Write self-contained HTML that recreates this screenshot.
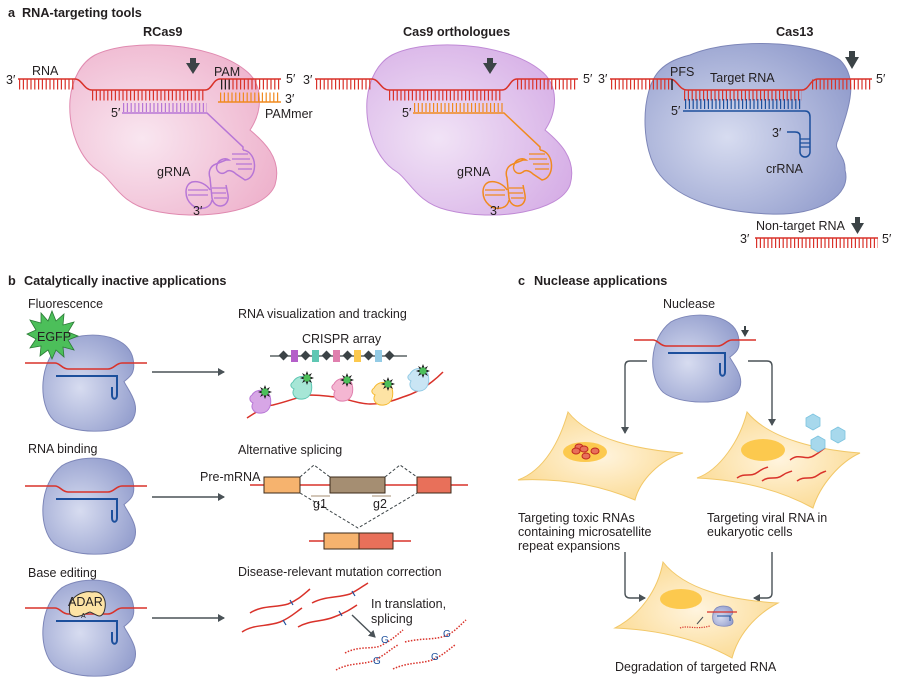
<!DOCTYPE html>
<html><head><meta charset="utf-8"><style>
html,body{margin:0;padding:0;background:#fff;}
svg{display:block;font-family:"Liberation Sans",sans-serif;}
.t{font-size:12.5px;fill:#231f20;}
.h{font-size:12.7px;font-weight:bold;fill:#231f20;}
</style></head><body>
<svg width="905" height="681" viewBox="0 0 905 681" xmlns="http://www.w3.org/2000/svg">
<defs>
<radialGradient id="gp" cx="0.35" cy="0.55" r="0.7"><stop offset="0" stop-color="#f9e6f0"/><stop offset="1" stop-color="#eeb2cc"/></radialGradient>
<radialGradient id="gv" cx="0.35" cy="0.55" r="0.7"><stop offset="0" stop-color="#f1e3f6"/><stop offset="1" stop-color="#d6aee6"/></radialGradient>
<radialGradient id="gb" cx="0.4" cy="0.55" r="0.7"><stop offset="0" stop-color="#d7dcf0"/><stop offset="1" stop-color="#8f9acb"/></radialGradient>
<radialGradient id="gc" cx="0.5" cy="0.5" r="0.6"><stop offset="0" stop-color="#fff4de"/><stop offset="1" stop-color="#fbd98f"/></radialGradient>
<path id="bean" d="M22,8 C45,-6 88,-2 93,25 C96,40 90,44 84,49 C88,58 102,74 92,90 C78,106 30,104 14,90 C-2,74 -2,28 22,8Z"/>
<marker id="ah" markerWidth="8" markerHeight="8" refX="6" refY="4" orient="auto" markerUnits="userSpaceOnUse"><path d="M0,0 L7,4 L0,8 Z" fill="#4a5257"/></marker>
<g id="star"><polygon points="0,-7 1.5,-3 5,-5 3,-1.5 7,0 3,1.5 5,5 1.5,3 0,7 -1.5,3 -5,5 -3,1.5 -7,0 -3,-1.5 -5,-5 -1.5,-3" fill="#1a1a1a"/><circle r="3.6" fill="#4cbf5a"/></g>
<g id="bprot">
<use href="#bean" transform="scale(1.0,0.95)" fill="url(#gb)" stroke="#7d86b8" stroke-width="1"/>
<path d="M-15,28 L15,28 C20,28 22,34 28,34 L68,34 C74,34 76,28 82,28 L107,28" fill="none" stroke="#d9322a" stroke-width="1.6"/>
<path d="M16,41 L77,41 L77,60 C77,65 72,65 72,60 L72,52" fill="none" stroke="#1c4f9c" stroke-width="2"/>
</g>
</defs>

<!-- ===== a ===== -->
<text x="8" y="17" class="h">a</text><text x="22" y="17" class="h">RNA-targeting tools</text>
<text x="143" y="36" class="h">RCas9</text>
<text x="403" y="36" class="h">Cas9 orthologues</text>
<text x="776" y="36" class="h">Cas13</text>

<!-- RCas9 -->
<path d="M95,55 C130,38 210,42 245,70 C265,85 262,112 250,130 C262,140 283,158 275,185 C265,212 200,222 150,210 C120,203 112,180 100,172 C80,160 68,130 70,100 C72,78 82,62 95,55Z" fill="url(#gp)" stroke="#e08ab0" stroke-width="1"/>
<g id="strandA">
<path d="M18,79 L75,79 C82,79 84,90 92,90 L205,90 C212,90 213,79 220,79 L281,79" fill="none" stroke="#d9322a" stroke-width="1.5"/>
<line x1="19" y1="84.5" x2="75" y2="84.5" stroke="#d9322a" stroke-width="10" stroke-dasharray="1.2 2.6"/>
<line x1="92" y1="95.5" x2="205" y2="95.5" stroke="#d9322a" stroke-width="10" stroke-dasharray="1.2 2.6"/>
<path d="M186,63 L200,63 L193,74 Z M190,58 L196,58 L196,64 L190,64Z" fill="#3b4346"/>
<text x="6" y="84" class="t">3′</text>
</g>
<line x1="221" y1="84.5" x2="280" y2="84.5" stroke="#d9322a" stroke-width="10" stroke-dasharray="1.2 2.6"/>
<line x1="221" y1="84.5" x2="232" y2="84.5" stroke="#222" stroke-width="10" stroke-dasharray="1.2 2.6"/>
<text x="32" y="75" class="t">RNA</text>
<text x="214" y="76" class="t">PAM</text>
<text x="286" y="83" class="t">5′</text>
<line x1="220" y1="97" x2="280" y2="97" stroke="#f08a1f" stroke-width="9" stroke-dasharray="1.2 2.6"/>
<line x1="218" y1="102" x2="281" y2="102" stroke="#f08a1f" stroke-width="1.5"/>
<text x="285" y="103" class="t">3′</text>
<text x="265" y="118" class="t">PAMmer</text>
<line x1="123" y1="107.5" x2="207" y2="107.5" stroke="#b776d6" stroke-width="9" stroke-dasharray="1.2 2.6"/>
<path d="M122,113 L207,113 L243,147 L243,150 M243,150 C258,152 258,178 245,180 L236,174 C232,170 228,170 226,172 C220,176 215,170 217,165 C218,160 225,157 229,160 L226,160 L216,164 C210,166 208,172 210,178 L212,198 C214,210 230,208 228,195 L226,185 M212,200 C210,210 198,210 192,205 C184,198 184,185 192,182 C200,180 208,186 210,190" fill="none" stroke="#b776d6" stroke-width="1.5"/>
<path d="M232,154 L248,154 M232,159 L250,159 M236,164 L252,164 M238,169 L252,169 M212,188 L226,188 M212,193 L226,193 M214,198 L227,198 M188,190 L208,190 M188,195 L208,195" stroke="#b776d6" stroke-width="1.2"/>
<text x="111" y="117" class="t">5′</text>
<text x="157" y="176" class="t">gRNA</text>
<text x="193" y="215" class="t">3′</text>

<!-- Cas9 orthologues -->
<path d="M392,55 C425,38 505,42 540,70 C560,85 557,112 545,130 C557,140 578,158 570,185 C560,212 495,222 447,210 C417,203 409,180 397,172 C377,160 365,130 367,100 C369,78 379,62 392,55Z" fill="url(#gv)" stroke="#c08ad6" stroke-width="1"/>
<use href="#strandA" transform="translate(297,0)"/>
<line x1="517" y1="84.5" x2="577" y2="84.5" stroke="#d9322a" stroke-width="10" stroke-dasharray="1.2 2.6"/>
<text x="583" y="83" class="t">5′</text>
<line x1="414" y1="107.5" x2="505" y2="107.5" stroke="#f08a1f" stroke-width="9" stroke-dasharray="1.2 2.6"/>
<g transform="translate(297,0)">
<path d="M116,113 L207,113 L243,147 L243,150 M243,150 C258,152 258,178 245,180 L236,174 C232,170 228,170 226,172 C220,176 215,170 217,165 C218,160 225,157 229,160 L226,160 L216,164 C210,166 208,172 210,178 L212,198 C214,210 230,208 228,195 L226,185 M212,200 C210,210 198,210 192,205 C184,198 184,185 192,182 C200,180 208,186 210,190" fill="none" stroke="#f08a1f" stroke-width="1.5"/>
<path d="M232,154 L248,154 M232,159 L250,159 M236,164 L252,164 M238,169 L252,169 M212,188 L226,188 M212,193 L226,193 M214,198 L227,198 M188,190 L208,190 M188,195 L208,195" stroke="#f08a1f" stroke-width="1.2"/>
<text x="105" y="117" class="t">5′</text>
<text x="160" y="176" class="t">gRNA</text>
<text x="193" y="215" class="t">3′</text>
</g>

<!-- Cas13 -->
<path d="M690,55 C730,38 810,40 840,60 C860,80 848,110 838,140 C832,150 846,155 845,170 C852,195 820,216 770,214 C720,212 680,200 660,175 C640,150 640,90 660,70 C668,62 678,58 690,55Z" fill="url(#gb)" stroke="#7d86b8" stroke-width="1"/>
<path d="M610,79 L670,79 C677,79 679,90 687,90 L802,90 C809,90 810,79 818,79 L872,79" fill="none" stroke="#d9322a" stroke-width="1.5"/>
<line x1="611" y1="84.5" x2="672" y2="84.5" stroke="#d9322a" stroke-width="10" stroke-dasharray="1.2 2.6"/>
<line x1="684" y1="95.5" x2="802" y2="95.5" stroke="#d9322a" stroke-width="10" stroke-dasharray="1.2 2.6"/>
<line x1="812" y1="84.5" x2="872" y2="84.5" stroke="#d9322a" stroke-width="10" stroke-dasharray="1.2 2.6"/>
<line x1="672" y1="79" x2="672" y2="90" stroke="#222" stroke-width="1.5"/>
<text x="598" y="83" class="t">3′</text><text x="876" y="83" class="t">5′</text>
<text x="670" y="76" class="t">PFS</text>
<text x="710" y="82" class="t">Target RNA</text>
<path d="M845,57 L859,57 L852,69 Z M849,51 L855,51 L855,58 L849,58Z" fill="#3b4346"/>
<line x1="685" y1="104" x2="802" y2="104" stroke="#1c4f9c" stroke-width="10" stroke-dasharray="1.2 2.6"/>
<path d="M683,111 L805,111 Q810,111 810,117 L810,152 A5,5 0 0 1 800,152 L800,136 Q800,132 795,132 L787,132" fill="none" stroke="#1c4f9c" stroke-width="1.5"/>
<path d="M800,139 L810,139 M800,143 L810,143 M800,147 L810,147" stroke="#1c4f9c" stroke-width="1.2"/>
<text x="671" y="115" class="t">5′</text>
<text x="772" y="137" class="t">3′</text>
<text x="766" y="173" class="t">crRNA</text>
<text x="756" y="230" class="t">Non-target RNA</text>
<path d="M851,223 L864,223 L857.5,234 Z M855,217 L860,217 L860,224 L855,224Z" fill="#3b4346"/>
<text x="740" y="243" class="t">3′</text><text x="882" y="243" class="t">5′</text>
<line x1="755" y1="238" x2="878" y2="238" stroke="#d9322a" stroke-width="1.5"/>
<line x1="756" y1="243" x2="878" y2="243" stroke="#d9322a" stroke-width="10" stroke-dasharray="1.2 2.6"/>

<!-- ===== b ===== -->
<text x="8" y="285" class="h">b</text><text x="24" y="285" class="h">Catalytically inactive applications</text>
<text x="28" y="308" class="t">Fluorescence</text>
<use href="#bprot" transform="translate(40,335)"/>
<polygon points="52,311 56,321 64,314 63,325 74,322 68,332 78,336 68,340 74,350 63,347 64,357 56,350 52,359 48,350 40,356 41,346 30,348 36,339 27,334 36,330 30,320 41,323 41,313 48,321" fill="#4cbf5a" stroke="#2a7a35" stroke-width="0.8"/>
<text x="37" y="341" class="t">EGFP</text>

<text x="28" y="453" class="t">RNA binding</text>
<use href="#bprot" transform="translate(40,458)"/>
<text x="28" y="577" class="t">Base editing</text>
<use href="#bprot" transform="translate(40,580)"/>
<path d="M70,614 C66,598 82,590 92,592 C102,590 108,600 104,612 C100,620 96,614 90,612 C84,614 76,620 70,614Z" fill="#fde3a4" stroke="#333" stroke-width="1"/>
<text x="68" y="606" class="t">ADAR</text>
<text x="81" y="618" style="font-size:7px;fill:#231f20">A</text>

<line x1="152" y1="372" x2="224" y2="372" stroke="#4a5257" stroke-width="1.4" marker-end="url(#ah)"/>
<line x1="152" y1="497" x2="224" y2="497" stroke="#4a5257" stroke-width="1.4" marker-end="url(#ah)"/>
<line x1="152" y1="618" x2="224" y2="618" stroke="#4a5257" stroke-width="1.4" marker-end="url(#ah)"/>

<text x="238" y="318" class="t">RNA visualization and tracking</text>
<text x="302" y="343" class="t">CRISPR array</text>
<line x1="270" y1="356" x2="407" y2="356" stroke="#3b4346" stroke-width="1.2"/>
<g fill="#3b4346">
<rect x="280" y="352" width="7" height="7" transform="rotate(45 283.5 355.5)"/>
<rect x="302" y="352" width="7" height="7" transform="rotate(45 305.5 355.5)"/>
<rect x="323" y="352" width="7" height="7" transform="rotate(45 326.5 355.5)"/>
<rect x="344" y="352" width="7" height="7" transform="rotate(45 347.5 355.5)"/>
<rect x="365" y="352" width="7" height="7" transform="rotate(45 368.5 355.5)"/>
<rect x="386" y="352" width="7" height="7" transform="rotate(45 389.5 355.5)"/>
</g>
<rect x="291" y="350" width="7" height="12" fill="#b45fc9"/>
<rect x="312" y="350" width="7" height="12" fill="#5fc7b3"/>
<rect x="333" y="350" width="7" height="12" fill="#e07fae"/>
<rect x="354" y="350" width="7" height="12" fill="#fcc94e"/>
<rect x="375" y="350" width="7" height="12" fill="#93cbe5"/>
<path d="M247,418 C258,411 265,406 273,405 C290,401 300,396 310,395 C325,395 330,397 337,397 C350,400 360,404 370,404 C385,404 395,400 403,397 C420,392 433,382 443,372" fill="none" stroke="#d9322a" stroke-width="1.5"/>
<g stroke-width="1">
<path d="M252,395 C256,388 268,389 270,396 C272,404 270,412 262,413 C254,414 250,408 253,403 C249,401 249,397 252,395Z" fill="#d7a6e6" stroke="#b776d6"/>
<path d="M293,382 C297,374 309,375 311,382 C313,390 311,398 303,399 C295,400 291,394 294,389 C290,387 290,384 293,382Z" fill="#a6e6d6" stroke="#5fc7b3"/>
<path d="M334,384 C338,376 350,377 352,384 C354,392 352,400 344,401 C336,402 332,396 335,391 C331,389 331,386 334,384Z" fill="#f4b6d2" stroke="#e07fae"/>
<path d="M374,388 C378,380 390,381 392,388 C394,396 392,404 384,405 C376,406 372,400 375,395 C371,393 371,390 374,388Z" fill="#fde3a4" stroke="#f5b82e"/>
<path d="M410,374 C414,366 426,367 428,374 C430,382 428,390 420,391 C412,392 408,386 411,381 C407,379 407,376 410,374Z" fill="#c9e5f4" stroke="#93cbe5"/>
</g>
<use href="#star" x="265" y="392"/><use href="#star" x="307" y="378"/><use href="#star" x="347" y="380"/><use href="#star" x="388" y="384"/><use href="#star" x="423" y="371"/>

<text x="238" y="454" class="t">Alternative splicing</text>
<text x="200" y="481" class="t">Pre-mRNA</text>
<line x1="250" y1="485" x2="468" y2="485" stroke="#d9322a" stroke-width="1.4"/>
<rect x="264" y="477" width="36" height="16" fill="#f6b36e" stroke="#3b2a1a" stroke-width="1"/>
<rect x="330" y="477" width="55" height="16" fill="#a58e72" stroke="#3b2a1a" stroke-width="1"/>
<rect x="417" y="477" width="34" height="16" fill="#e8705a" stroke="#3b2a1a" stroke-width="1"/>
<path d="M300,477 L314,465 L330,477 M385,477 L400,465 L417,477 M300,493 L358,528 L417,493" fill="none" stroke="#3b4346" stroke-width="1" stroke-dasharray="3 2"/>
<line x1="311" y1="496" x2="330" y2="496" stroke="#a58e72" stroke-width="1"/>
<line x1="372" y1="496" x2="391" y2="496" stroke="#a58e72" stroke-width="1"/>
<text x="313" y="508" class="t">g1</text><text x="373" y="508" class="t">g2</text>
<line x1="309" y1="541" x2="411" y2="541" stroke="#d9322a" stroke-width="1.4"/>
<rect x="324" y="533" width="35" height="16" fill="#f6b36e" stroke="#3b2a1a" stroke-width="1"/>
<rect x="359" y="533" width="34" height="16" fill="#e8705a" stroke="#3b2a1a" stroke-width="1"/>

<text x="238" y="576" class="t">Disease-relevant mutation correction</text>
<g fill="none" stroke="#d9322a" stroke-width="1.5">
<path d="M250,613 C262,605 275,608 288,604 C298,600 304,594 310,589"/>
<path d="M242,632 C254,624 266,627 280,622 C290,618 296,612 302,608"/>
<path d="M312,603 C325,596 338,598 350,594 C358,590 363,586 368,583"/>
<path d="M298,627 C310,620 322,622 334,617 C345,613 351,609 357,605"/>
</g>
<path d="M290,600 L293,605 M283,620 L286,625 M352,591 L355,596 M339,611 L342,616" stroke="#1c4f9c" stroke-width="1.2"/>
<text x="371" y="608" class="t">In translation,</text>
<text x="371" y="623" class="t">splicing</text>
<line x1="352" y1="615" x2="375" y2="637" stroke="#4a5257" stroke-width="1.4" marker-end="url(#ah)"/>
<g fill="none" stroke="#d9322a" stroke-width="1.5" stroke-dasharray="1.5 1.5">
<path d="M345,653 C360,645 375,650 382,645 C392,640 398,634 403,630"/>
<path d="M336,670 C350,662 365,665 375,660 C385,655 392,648 398,645"/>
<path d="M405,642 C420,638 435,640 445,636 C455,632 460,625 466,620"/>
<path d="M393,669 C408,662 420,664 432,660 C442,656 448,650 455,645"/>
</g>
<text x="381" y="643" style="font-size:10px;fill:#1c4f9c">G</text>
<text x="373" y="664" style="font-size:10px;fill:#1c4f9c">G</text>
<text x="443" y="637" style="font-size:10px;fill:#1c4f9c">G</text>
<text x="431" y="660" style="font-size:10px;fill:#1c4f9c">G</text>

<!-- ===== c ===== -->
<text x="518" y="285" class="h">c</text><text x="534" y="285" class="h">Nuclease applications</text>
<text x="663" y="308" class="t">Nuclease</text>
<use href="#bean" transform="translate(650,315) scale(0.95,0.86)" fill="url(#gb)" stroke="#7d86b8" stroke-width="1"/>
<path d="M634,340 L653,340 C658,340 660,346 666,346 L718,346 C724,346 726,340 732,340 L756,340" fill="none" stroke="#d9322a" stroke-width="1.6"/>
<path d="M668,353 L725,353 L725,372 C725,377 720,377 720,372 L720,363" fill="none" stroke="#1c4f9c" stroke-width="2"/>
<path d="M741,330 L749,330 L745,337 Z M744,326 L746,326 L746,331 L744,331Z" fill="#3b4346"/>

<path d="M647,361 L630,361 Q625,361 625,366 L625,433" fill="none" stroke="#4a5257" stroke-width="1.4" marker-end="url(#ah)"/>
<path d="M748,361 L767,361 Q772,361 772,366 L772,425" fill="none" stroke="#4a5257" stroke-width="1.4" marker-end="url(#ah)"/>

<path d="M518,480 C545,470 560,440 568,412 C590,440 640,450 683,453 C660,460 640,480 635,500 C600,485 560,478 518,480Z" fill="url(#gc)" stroke="#f2c868" stroke-width="1"/>
<ellipse cx="585" cy="452" rx="22" ry="10" fill="#fcc94e"/>
<g fill="#e8705a" stroke="#c02820" stroke-width="1"><ellipse cx="579" cy="447" rx="4" ry="3"/><ellipse cx="584" cy="449" rx="4" ry="3"/><ellipse cx="595" cy="451" rx="4" ry="3"/><ellipse cx="586" cy="456" rx="4" ry="3"/><ellipse cx="576" cy="451" rx="4" ry="3"/></g>

<path d="M697,478 C720,470 740,440 747,412 C770,440 820,450 860,453 C840,462 820,485 813,508 C780,490 740,480 697,478Z" fill="url(#gc)" stroke="#f2c868" stroke-width="1"/>
<ellipse cx="763" cy="450" rx="22" ry="11" fill="#fcc94e"/>
<g fill="none" stroke="#d9322a" stroke-width="1.5">
<path d="M790,460 C800,452 805,462 815,455 C820,452 822,450 825,448"/>
<path d="M737,478 C745,472 750,478 758,472 C763,468 766,468 768,467"/>
<path d="M762,481 C770,475 775,481 783,475 C787,472 790,472 792,471"/>
<path d="M797,481 C805,475 810,481 818,475 C822,472 824,472 826,471"/>
</g>
<g fill="#a7d8ec" stroke="#7cc3df" stroke-width="0.8">
<polygon points="813,414 820,418 820,426 813,430 806,426 806,418"/>
<polygon points="838,427 845,431 845,439 838,443 831,439 831,431"/>
<polygon points="818,436 825,440 825,448 818,452 811,448 811,440"/>
</g>

<text x="518" y="522" class="t">Targeting toxic RNAs</text>
<text x="518" y="536" class="t">containing microsatellite</text>
<text x="518" y="550" class="t">repeat expansions</text>
<text x="707" y="522" class="t">Targeting viral RNA in</text>
<text x="707" y="536" class="t">eukaryotic cells</text>

<path d="M625,552 L625,593 Q625,598 630,598 L645,598" fill="none" stroke="#4a5257" stroke-width="1.4" marker-end="url(#ah)"/>
<path d="M772,552 L772,593 Q772,598 767,598 L754,598" fill="none" stroke="#4a5257" stroke-width="1.4" marker-end="url(#ah)"/>

<path d="M615,628 C640,615 658,590 663,562 C685,590 730,600 778,603 C755,615 738,635 732,658 C700,640 660,630 615,628Z" fill="url(#gc)" stroke="#f2c868" stroke-width="1"/>
<ellipse cx="681" cy="599" rx="21" ry="10" fill="#fcc94e"/>
<use href="#bean" transform="translate(712,606) scale(0.22,0.2)" fill="url(#gb)" stroke="#7d86b8" stroke-width="4"/>
<line x1="707" y1="612" x2="737" y2="612" stroke="#d9322a" stroke-width="1.2"/>
<path d="M717,616 L730,616 L730,621" fill="none" stroke="#1c4f9c" stroke-width="1"/>
<path d="M680,628 C688,625 695,630 710,626" fill="none" stroke="#d9322a" stroke-width="1.2" stroke-dasharray="1.2 1.2"/>
<line x1="703" y1="617" x2="697" y2="624" stroke="#4a5257" stroke-width="1"/>
<text x="615" y="671" class="t">Degradation of targeted RNA</text>
</svg>
</body></html>
